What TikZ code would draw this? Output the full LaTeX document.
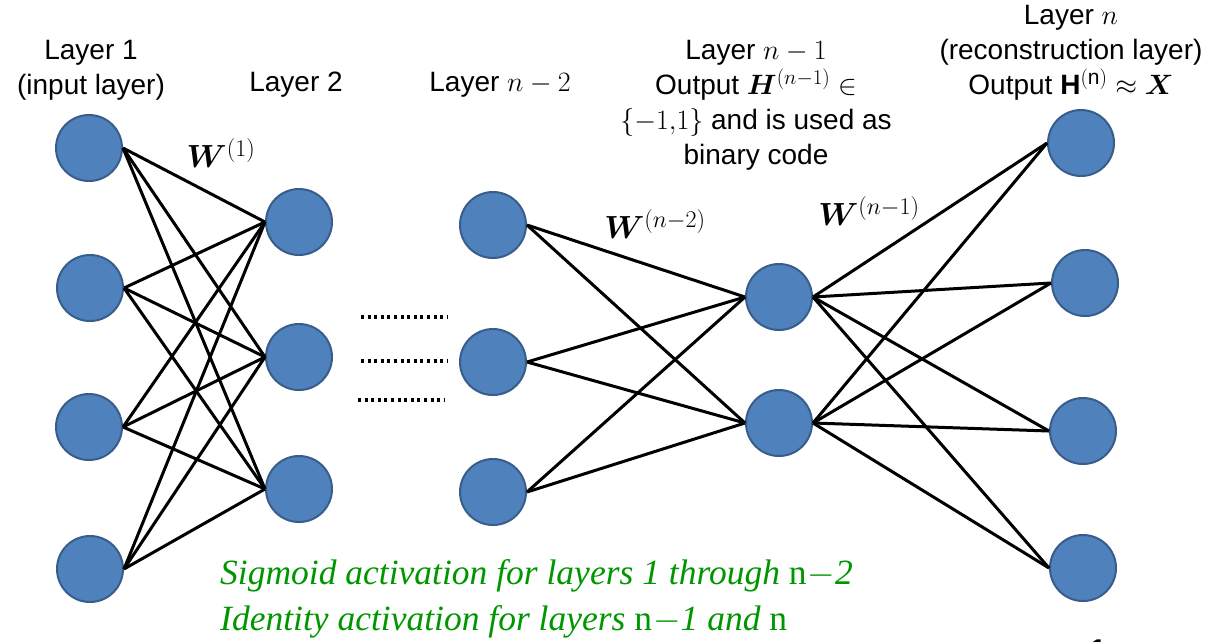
\RequirePackage{fix-cm}
\documentclass[tikz,border=0pt]{standalone}
\usepackage{amsmath}
\usepackage{bm}
\usepackage{fontspec}
\setmainfont{Liberation Sans}
\newfontfamily\notefont{Liberation Serif}
% larger script sizes for the big display fonts
\DeclareMathSizes{28}{28}{21}{16}
\DeclareMathSizes{32}{32}{24}{18}
\definecolor{neuronfill}{RGB}{79,129,189}
\definecolor{neuronedge}{RGB}{56,93,138}
\definecolor{notegreen}{RGB}{0,150,0}
\tikzset{
  neuron/.style={circle, fill=neuronfill, draw=neuronedge, line width=2pt,
                 minimum size=66pt, inner sep=0pt},
  weight/.style={line width=3pt, black},
  caption/.style={align=center, font=\fontsize{28}{35}\selectfont, inner sep=0pt},
  wlabel/.style={font=\fontsize{32}{36}\selectfont, inner sep=0pt},
  ellipsis/.style={line width=3.2pt, dash pattern=on 3pt off 3.6pt},
  note/.style={anchor=west, font=\notefont\itshape\fontsize{35.5}{44}\selectfont,
               text=notegreen, inner sep=0pt}
}
\begin{document}
\begin{tikzpicture}[x=1pt, y=-1pt]
  \useasboundingbox (0,0) rectangle (1214,641);

  % layer 1 (input)
  \node[neuron] (a1) at (89,148) {};
  \node[neuron] (a2) at (90,288) {};
  \node[neuron] (a3) at (89,427) {};
  \node[neuron] (a4) at (90,569) {};
  % layer 2
  \node[neuron] (b1) at (299,222) {};
  \node[neuron] (b2) at (299,357) {};
  \node[neuron] (b3) at (299,489) {};
  % layer n-2
  \node[neuron] (c1) at (493,225) {};
  \node[neuron] (c2) at (493,362) {};
  \node[neuron] (c3) at (493,492) {};
  % layer n-1 (code layer)
  \node[neuron] (d1) at (779,297) {};
  \node[neuron] (d2) at (779,423) {};
  % layer n (reconstruction)
  \node[neuron] (e1) at (1081,143) {};
  \node[neuron] (e2) at (1085,283) {};
  \node[neuron] (e3) at (1083,431) {};
  \node[neuron] (e4) at (1083,568) {};

  % fully connected weights
  \foreach \i in {1,...,4} \foreach \j in {1,2,3}
    \draw[weight] (a\i.east) -- (b\j.west);
  \foreach \i in {1,2,3} \foreach \j in {1,2}
    \draw[weight] (c\i.east) -- (d\j.west);
  \foreach \i in {1,2} \foreach \j in {1,...,4}
    \draw[weight] (d\i.east) -- (e\j.west);

  % omitted intermediate layers
  \coordinate (g1s) at (361,317); \coordinate (g1e) at (447,317);
  \coordinate (g2s) at (361,361); \coordinate (g2e) at (447,361);
  \coordinate (g3s) at (358,400); \coordinate (g3e) at (444,400);
  \draw[ellipsis] (g1s) -- (g1e);
  \draw[ellipsis] (g2s) -- (g2e);
  \draw[ellipsis] (g3s) -- (g3e);

  % layer captions
  \node[caption] (t1) at (91,70) {Layer 1\\(input layer)};
  \node[caption] (t2) at (296,85) {Layer 2};
  \node[caption] (t3) at (500,85) {Layer $n-2$};
  \node[caption] (t4) at (756,105) {Layer $n-1$\\Output $\bm{H}^{(n-1)}\in$\\$\{-1{,}1\}$ and is used as\\binary code};
  \node[caption] (t5) at (1071,53) {Layer $n$\\(reconstruction layer)\\Output $\mathbf{H}^{(\mathrm{n})}\approx\bm{X}$};

  % weight matrix labels
  \node[wlabel] (w1) at (221,153) {$\bm{W}^{(1)}$};
  \node[wlabel] (w2) at (655,224) {$\bm{W}^{(n-2)}$};
  \node[wlabel] (w3) at (869,211) {$\bm{W}^{(n-1)}$};

  % activation notes
  \node[note] (n1) at (220,576) {Sigmoid activation for layers 1 through {\upshape n}\kern1pt$-$2};
  \node[note] (n2) at (220,622) {Identity activation for layers {\upshape n}\kern1pt$-$1 and {\upshape n}};

  % slide number
  \node[font=\bfseries\fontsize{30}{30}\selectfont, inner sep=0pt] (pg) at (1098,650) {1};
\end{tikzpicture}
\end{document}
